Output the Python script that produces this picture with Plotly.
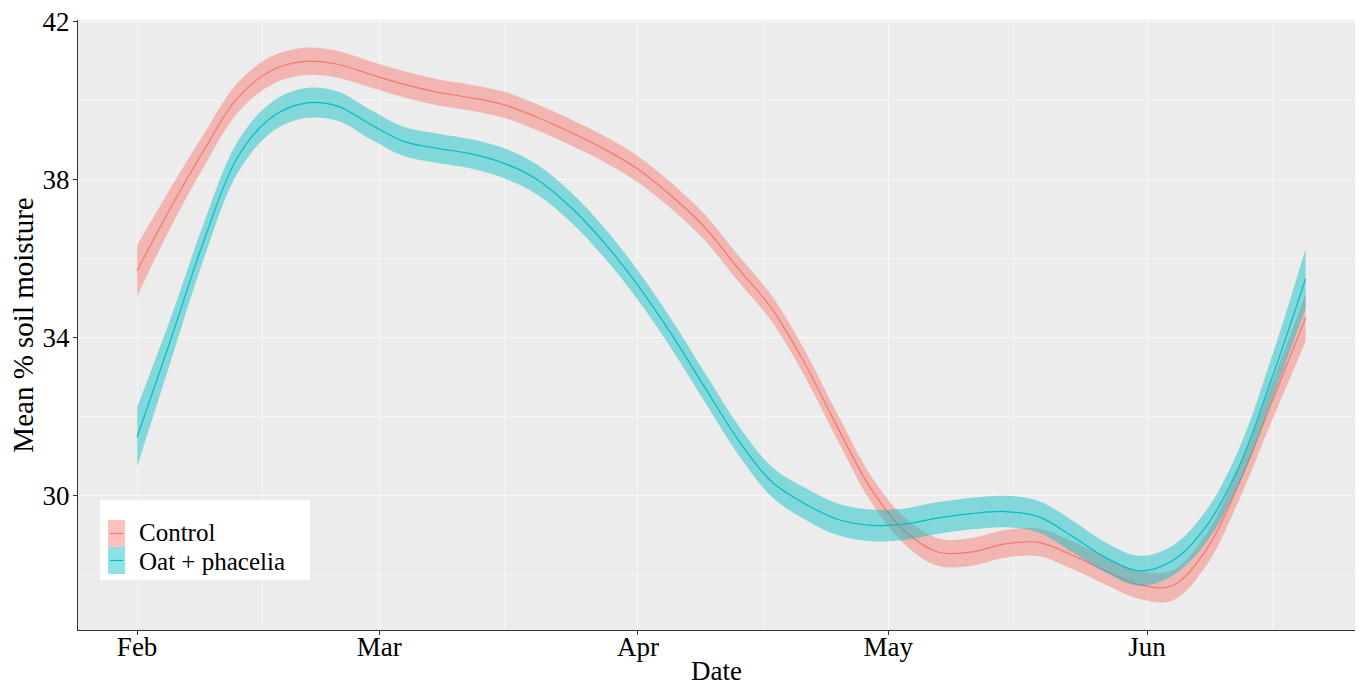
import plotly.graph_objects as go
import pandas as pd

# Dates every 4 days from 1 Feb 2020
dates = pd.date_range("2020-02-01", periods=36, freq="4D").strftime("%Y-%m-%d").tolist()

control_mean = [35.70, 37.29, 38.75, 40.07, 40.76, 41.00, 40.93, 40.67, 40.42, 40.22,
                40.08, 39.90, 39.58, 39.20, 38.78, 38.27, 37.60, 36.80, 35.76, 34.75,
                33.35, 31.70, 30.15, 29.10, 28.57, 28.58, 28.78, 28.82, 28.50, 28.10,
                27.75, 27.72, 28.60, 30.30, 32.40, 34.50]
oat_mean = [31.49, 33.94, 36.46, 38.56, 39.57, 39.94, 39.87, 39.40, 38.97, 38.80,
            38.66, 38.42, 38.00, 37.30, 36.40, 35.33, 34.10, 32.75, 31.42, 30.36,
            29.80, 29.40, 29.25, 29.28, 29.44, 29.55, 29.60, 29.47, 28.98, 28.44,
            28.10, 28.35, 29.20, 30.73, 33.00, 35.50]
control_se = [0.65, 0.50, 0.42, 0.38, 0.36, 0.35, 0.34, 0.33, 0.33, 0.33,
              0.33, 0.33, 0.33, 0.33, 0.33, 0.33, 0.33, 0.33, 0.33, 0.33,
              0.33, 0.33, 0.33, 0.34, 0.35, 0.35, 0.35, 0.35, 0.35, 0.35,
              0.36, 0.38, 0.40, 0.42, 0.48, 0.60]
oat_se = [0.75, 0.55, 0.45, 0.40, 0.38, 0.38, 0.37, 0.37, 0.37, 0.37,
          0.37, 0.38, 0.38, 0.38, 0.38, 0.37, 0.37, 0.37, 0.37, 0.38,
          0.40, 0.40, 0.40, 0.40, 0.40, 0.40, 0.40, 0.40, 0.40, 0.38,
          0.38, 0.38, 0.40, 0.45, 0.55, 0.75]

series_names = ["Control", "Oat + phacelia"]
line_colors = ["#F8766D", "#00BFC4"]
fill_colors = ["rgba(248,118,109,0.45)", "rgba(0,191,196,0.45)"]
means = [control_mean, oat_mean]
ses = [control_se, oat_se]

y_ticks = [30, 34, 38, 42]

fig = go.Figure()
for name, mean, se, lc, fc in zip(series_names, means, ses, line_colors, fill_colors):
    upper = [m + s for m, s in zip(mean, se)]
    lower = [m - s for m, s in zip(mean, se)]
    fig.add_trace(go.Scatter(
        x=dates, y=lower, mode="lines",
        line=dict(width=0, shape="spline", color=fc),
        legendgroup=name, showlegend=False, hoverinfo="skip"))
    fig.add_trace(go.Scatter(
        x=dates, y=upper, mode="lines", fill="tonexty", fillcolor=fc,
        line=dict(width=0, shape="spline", color=fc),
        name=name, legendgroup=name, showlegend=False, hoverinfo="skip"))
    fig.add_trace(go.Scatter(
        x=dates, y=mean, mode="lines", line=dict(color=lc, width=1.2, shape="spline"),
        name=name, legendgroup=name, showlegend=False))

# ---- manual ggplot-style legend (paper coordinates) ----
plot_l, plot_r, plot_t, plot_b = 78, 1355, 20, 630
def px(x):
    return (x - plot_l) / (plot_r - plot_l)
def py(y):
    return (plot_b - y) / (plot_b - plot_t)

shapes = [dict(type="rect", xref="paper", yref="paper",
               x0=px(100), x1=px(310), y0=py(580), y1=py(500),
               fillcolor="white", line=dict(width=0), layer="above")]
annotations = []
key_top = 520
key_h = 27
text_y = [532, 561]
for i, (name, lc, fc) in enumerate(zip(series_names, line_colors, fill_colors)):
    y0 = key_top + i * key_h
    y1 = y0 + key_h
    shapes.append(dict(type="rect", xref="paper", yref="paper",
                       x0=px(108), x1=px(125), y0=py(y1), y1=py(y0),
                       fillcolor=fc, line=dict(width=0), layer="above"))
    shapes.append(dict(type="line", xref="paper", yref="paper",
                       x0=px(110), x1=px(123), y0=py((y0 + y1) / 2), y1=py((y0 + y1) / 2),
                       line=dict(color=lc, width=1.2), layer="above"))
    annotations.append(dict(xref="paper", yref="paper", x=px(137), y=py(text_y[i]),
                            xanchor="left", yanchor="middle", showarrow=False,
                            text=name, font=dict(size=25)))

font_family = "Liberation Serif, Times New Roman, serif"
fig.update_layout(
    width=1359, height=686,
    margin=dict(l=plot_l, r=1359 - plot_r, t=plot_t, b=686 - plot_b),
    paper_bgcolor="white", plot_bgcolor="#ECECEC",
    font=dict(family=font_family, size=27, color="black"),
    showlegend=False,
    shapes=shapes,
    annotations=annotations,
    xaxis=dict(
        range=["2020-01-24 22:00", "2020-06-25 22:00"],
        tick0="2020-02-01", dtick="M1", tickformat="%b",
        showgrid=True, gridcolor="#F8F8F8", gridwidth=1.3,
        minor=dict(tick0="2020-01-16", dtick="M1", showgrid=True,
                   gridcolor="#F5F5F5", gridwidth=0.8),
        showline=True, linecolor="#333333", linewidth=1,
        ticks="outside", ticklen=4, tickcolor="#333333",
        tickfont=dict(size=27), ticklabelstandoff=-11,
        title=dict(text="Date", standoff=19, font=dict(size=27)),
        zeroline=False, automargin=False,
    ),
    yaxis=dict(
        range=[26.6, 42.05],
        tickvals=y_ticks,
        showgrid=True, gridcolor="#F8F8F8", gridwidth=1.3,
        minor=dict(tick0=28, dtick=4, showgrid=True,
                   gridcolor="#F5F5F5", gridwidth=0.8),
        showline=True, linecolor="#333333", linewidth=1,
        ticks="outside", ticklen=4, tickcolor="#333333",
        tickfont=dict(size=27), ticklabelstandoff=-2,
        title=dict(text="Mean % soil moisture", standoff=0, font=dict(size=29)),
        zeroline=False, automargin=False,
    ),
)

fig.write_html("out.html")
